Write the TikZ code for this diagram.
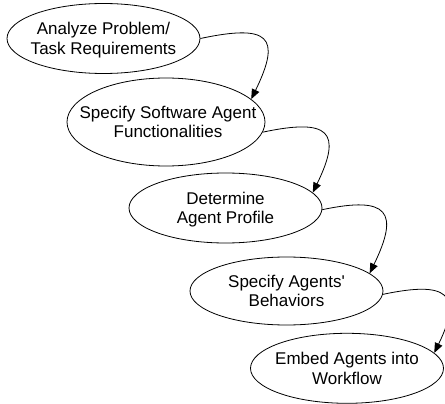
\documentclass[tikz,border=0pt]{standalone}
\usepackage{fontspec}
\setmainfont{Liberation Sans}
\usetikzlibrary{shapes.geometric,arrows.meta}
\begin{document}
\begin{tikzpicture}[x=1pt,y=1pt,
  stage/.style={draw=black, line width=0.8pt, ellipse, inner sep=0pt, minimum width=193pt, minimum height=70pt},
  lbl/.style={align=center, inner sep=0pt, font=\fontsize{17}{19.5}\selectfont},
  flow/.style={draw=black, line width=0.8pt, -{Triangle[length=10pt,width=8pt]}}]
\useasboundingbox (0,0) rectangle (445,-404);
\node[stage] (e1) at (103.5,-38.5) {};
\node[stage, minimum width=198pt, minimum height=88pt] (e2) at (166,-122) {};
\node[stage] (e3) at (225.5,-208) {};
\node[stage, minimum height=68pt] (e4) at (286.5,-291) {};
\node[stage] (e5) at (347,-368.3) {};
\node[lbl] (t1) at ([yshift=-1.5pt]e1.center) {Analyze Problem/\\Task Requirements};
\node[lbl] (t2) at ([xshift=2pt]e2.center) {Specify Software Agent\\Functionalities};
\node[lbl] (t3) at ([yshift=-1.5pt]e3.center) {Determine\\Agent Profile};
\node[lbl] (t4) at (e4.center) {Specify Agents\textquotesingle\\Behaviors};
\node[lbl] (t5) at (e5.center) {Embed Agents into\\Workflow};
\draw[flow] (e1.0) .. controls +(12:70pt) and +(64:70pt) .. (e2.15);
\draw[flow] (e2.-6) .. controls +(12:68pt) and +(64:68pt) .. (e3.10);
\draw[flow] (e3.-1) .. controls +(12:68pt) and +(64:68pt) .. (e4.12.5);
\draw[flow] (e4.-2) .. controls +(12:66pt) and +(64:66pt) .. (e5.10.5);
\end{tikzpicture}
\end{document}
